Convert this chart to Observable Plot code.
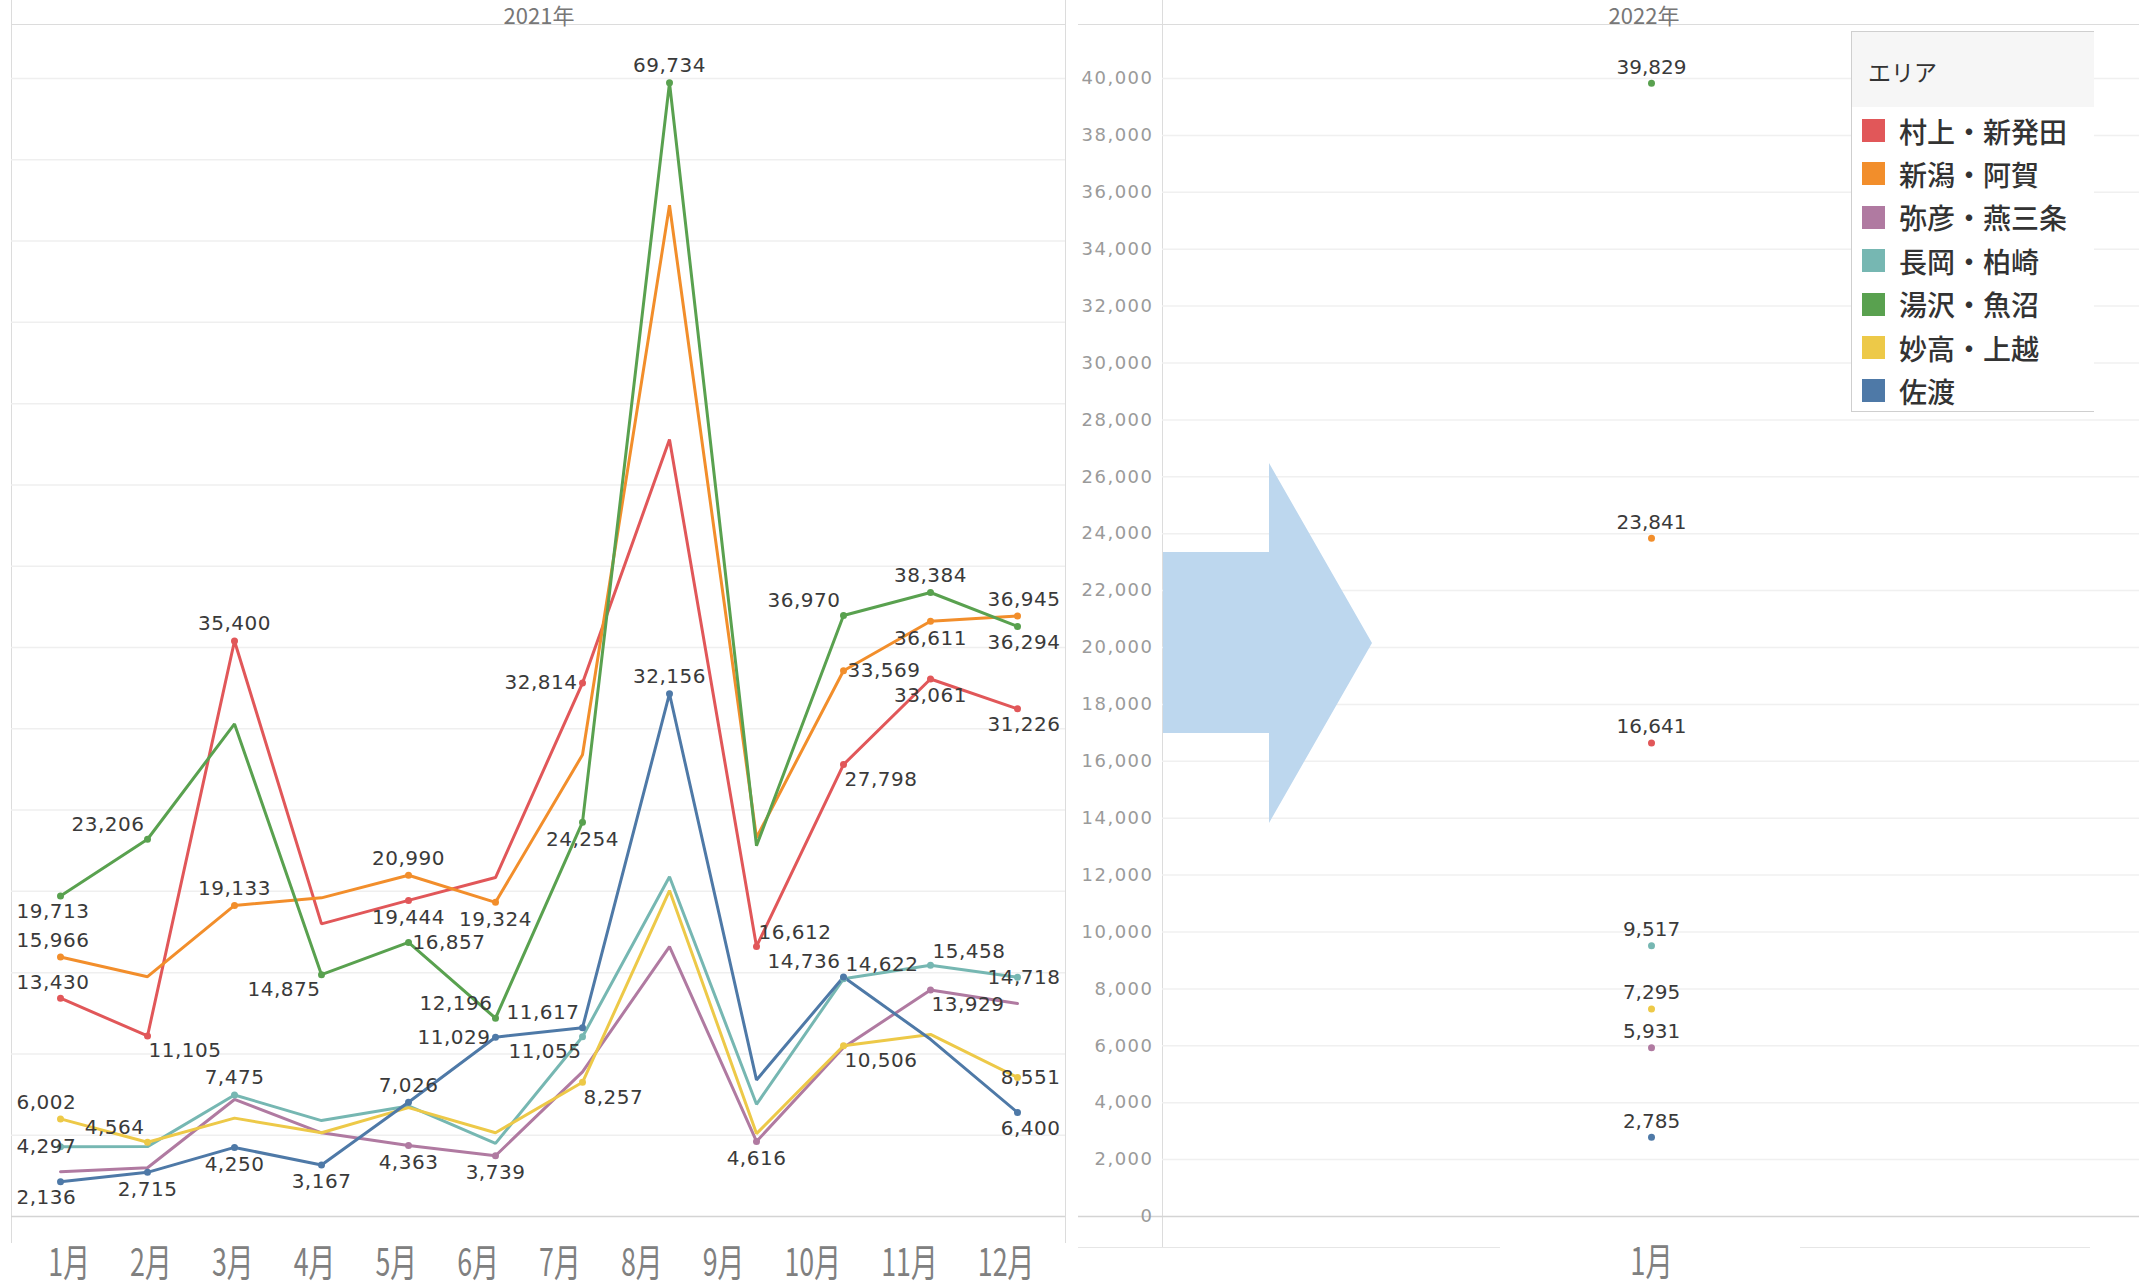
<!DOCTYPE html>
<html><head><meta charset="utf-8">
<script src="https://cdn.jsdelivr.net/npm/d3@7"></script>
<script src="https://cdn.jsdelivr.net/npm/@observablehq/plot@0.6"></script>
<style>
html,body{margin:0;padding:0;background:#fff;}
body{width:2139px;height:1284px;overflow:hidden;position:relative;font-family:"Noto Sans CJK JP","DejaVu Sans",sans-serif;}
.layer{position:absolute;top:0;}
.vline{position:absolute;width:1px;background:#dcdcdc;}
.hline{position:absolute;height:1px;background:#dcdcdc;}
.year{position:absolute;top:0px;font-size:22px;line-height:28px;color:#777;transform:translateX(-50%);white-space:nowrap;}
#arrow{position:absolute;left:1163px;top:463px;width:209px;height:360px;background:#bdd7ee;
 clip-path:polygon(0 89px,106px 89px,106px 0,209px 180px,106px 360px,106px 270px,0 270px);}
#legend{position:absolute;left:1851px;top:31px;width:243px;height:381px;border:1px solid #cfcfcf;border-right:none;background:#fff;box-sizing:border-box;}
#legend .title{height:75px;background:#f6f6f6;font-size:23px;color:#333;padding-left:16px;line-height:78px;}
#legend .item{position:absolute;left:10px;height:43px;display:flex;align-items:center;font-size:28px;color:#333;font-weight:500;white-space:nowrap;}
#legend .sw{width:23px;height:23px;margin-right:14px;flex:none;}
#leftx{transform:scaleX(0.705);transform-origin:0 0;}
</style></head><body>
<div class="vline" style="left:11px;top:0;height:1243px"></div>
<div class="vline" style="left:1065px;top:0;height:1243px"></div>
<div class="hline" style="left:11px;top:24px;width:1055px"></div>
<div class="hline" style="left:1078px;top:24px;width:1061px"></div>
<div class="vline" style="left:1162px;top:0;height:1247px"></div>
<div class="hline" style="left:1078px;top:1247px;width:422px;background:#e6e6e6"></div>
<div class="hline" style="left:1800px;top:1247px;width:290px;background:#e6e6e6"></div>
<div id="y2021" class="year" style="left:539px"></div>
<div id="y2022" class="year" style="left:1644px"></div>
<div id="left" class="layer" style="left:0"></div>
<div id="leftx" class="layer" style="left:0"></div>
<div id="right" class="layer" style="left:1080px"></div>
<div id="arrow"></div>
<div id="legend"></div>
<script>
// ---- data ----
const months = ["1月","2月","3月","4月","5月","6月","7月","8月","9月","10月","11月","12月"];
const areas = ["村上・新発田","新潟・阿賀","弥彦・燕三条","長岡・柏崎","湯沢・魚沼","妙高・上越","佐渡"];
const areaColors = ["#e15759","#f28e2b","#b07aa1","#76b7b2","#59a14f","#edc948","#4e79a7"];

const murakami2021 = [13430, 11105, 35400, 18000, 19444, 20850, 32814, 47800, 16612, 27798, 33061, 31226];
const niigata2021  = [15966, 14750, 19133, 19600, 20990, 19324, 28400, 62200, 23300, 33569, 36611, 36945];
const yahiko2021   = [2750, 3000, 7200, 5150, 4363, 3739, 8900, 16600, 4616, 10400, 13929, 13100];
const nagaoka2021  = [4297, 4300, 7475, 5900, 6800, 4500, 11055, 20900, 6900, 14622, 15458, 14718];
const yuzawa2021   = [19713, 23206, 30300, 14875, 16857, 12196, 24254, 69734, 22800, 36970, 38384, 36294];
const myoko2021    = [6002, 4564, 6050, 5150, 6700, 5150, 8257, 20050, 5100, 10506, 11200, 8551];
const sado2021     = [2136, 2715, 4250, 3167, 7026, 11029, 11617, 32156, 8400, 14736, 10900, 6400];

const month2022 = "1月";
const values2022 = [16641, 23841, 5931, 9517, 39829, 7295, 2785];

const yearLabels = ["2021年", "2022年"];
const legendTitle = "エリア";
const ticks2022 = d3.range(0, 40001, 2000);

// ---- label placement (which points are labelled, and where) ----
const place2021 = [
  ["Lt","br","t",null,"b",null,"l",null,"tr","br","b","Rb"],
  ["Lt",null,"t",null,"t","b",null,null,null,"r","b","Rt"],
  [null,null,null,null,"b","b",null,null,"b",null,"br",null],
  ["Lm",null,"t",null,null,null,"bl",null,null,"tr","tr","Rm"],
  ["Lb","tl",null,"bl","r","tl","b","t",null,"tl","t","Rb"],
  ["Lt","tl",null,null,null,null,"br",null,null,"br",null,"Rm"],
  ["Lb","b","b","b","t","l","tl","t",null,"tl",null,"Rb"]
];
const placements = {
  t:["middle",0,-17], b:["middle",0,17], l:["end",-5,0], r:["start",4,0],
  tl:["end",-3,-15], bl:["end",-1,15], tr:["start",2,-14], br:["start",1,15],
  Lt:["start",-44,-16], Lm:["start",-44,0], Lb:["start",-44,16],
  Rt:["end",43,-16], Rm:["end",43,0], Rb:["end",43,16]
};

const series2021 = [murakami2021, niigata2021, yahiko2021, nagaoka2021, yuzawa2021, myoko2021, sado2021];
const rows2021 = [];
series2021.forEach((vals, i) => vals.forEach((v, j) =>
  rows2021.push({area: areas[i], month: months[j], value: v, pos: place2021[i][j]})));
const rows2022 = areas.map((a, i) => ({area: a, month: month2022, value: values2022[i]}));

const fmt = d3.format(",");
const colorScale = {domain: areas, range: areaColors};
const labelFont = {fontFamily: "DejaVu Sans", fontSize: 20, fill: "#3a3a3a"};
const monthFont = {fontFamily: "Noto Sans CJK JP", fontSize: 38};

// ---- 2021 panel ----
const left = Plot.plot({
  width: 1080, height: 1284,
  marginLeft: 56, marginRight: 59, marginTop: 78, marginBottom: 68,
  style: {background: "transparent", letterSpacing: "0.5px", overflow: "visible"},
  x: {type: "point", domain: months, padding: 0, axis: null},
  y: {domain: [0, 70000], axis: null},
  color: colorScale,
  marks: [
    Plot.ruleY(d3.range(5000, 70001, 5000), {stroke: "#efefef", strokeWidth: 1.5, insetLeft: -45, insetRight: -44}),
    Plot.ruleY([0], {stroke: "#d4d4d4", strokeWidth: 1.5, insetLeft: -45, insetRight: -44}),
    Plot.line(rows2021, {x: "month", y: "value", z: "area", stroke: "area", strokeWidth: 3, strokeLinejoin: "miter"}),
    Plot.dot(rows2021.filter(d => d.pos), {x: "month", y: "value", fill: "area", r: 3.5}),
    ...Object.entries(placements).map(([k, [anchor, dx, dy]]) =>
      Plot.text(rows2021.filter(d => d.pos === k), {
        x: "month", y: "value", text: d => fmt(d.value),
        textAnchor: anchor, dx, dy, ...labelFont
      }))
  ]
});
document.getElementById("left").append(left);

// month labels of the 2021 panel: one line of text, condensed horizontally
const leftx = Plot.plot({
  width: 1530, height: 1284,
  marginLeft: 68, marginRight: 0, marginTop: 0, marginBottom: 21,
  style: {background: "transparent", overflow: "visible"},
  marks: [
    Plot.text([months.join("\u3000\u2002")], {
      frameAnchor: "bottom-left", textAnchor: "start", lineAnchor: "middle",
      fill: "#808080", ...monthFont
    })
  ]
});
document.getElementById("leftx").append(leftx);

// ---- 2022 panel ----
const right = Plot.plot({
  width: 1059, height: 1284,
  marginLeft: 82, marginRight: 0, marginTop: 78, marginBottom: 68,
  style: {background: "transparent", overflow: "visible"},
  x: {type: "point", domain: [month2022], padding: 0.5},
  y: {domain: [0, 40000], label: null},
  color: colorScale,
  marks: [
    Plot.ruleY(ticks2022.filter(v => v > 0), {stroke: "#f0f0f0", strokeWidth: 1.5}),
    Plot.ruleY([0], {stroke: "#d4d4d4", strokeWidth: 1.5, insetLeft: -84}),
    Plot.axisY({ticks: ticks2022, tickFormat: fmt, tickSize: 0, tickPadding: 9, fontSize: 18,
      fontFamily: "DejaVu Sans", color: "#9a9a9a", label: null}),
    Plot.axisX({tickSize: 0, tickPadding: 32, ...monthFont, color: "#808080", label: null}),
    Plot.dot(rows2022, {x: "month", y: "value", fill: "area", r: 3.5}),
    Plot.text(rows2022, {x: "month", y: "value", text: d => fmt(d.value), dy: -16, ...labelFont})
  ]
});
document.getElementById("right").append(right);

// condensed look of the month label and wide tick labels
d3.selectAll('#right g[aria-label="x-axis tick label"] text').each(function() {
  const t = this.getAttribute("transform") || "";
  this.setAttribute("transform", t + " scale(0.72,1)");
});
d3.selectAll('#right g[aria-label="y-axis tick label"] text').style("letter-spacing", "1.5px");

// ---- headers ----
document.getElementById("y2021").textContent = yearLabels[0];
document.getElementById("y2022").textContent = yearLabels[1];

// ---- legend ----
const legend = document.getElementById("legend");
const title = document.createElement("div");
title.className = "title";
title.textContent = legendTitle;
legend.append(title);
areas.forEach((a, i) => {
  const it = document.createElement("div");
  it.className = "item";
  it.style.top = (77 + i * 43.4) + "px";
  const sw = document.createElement("span");
  sw.className = "sw";
  sw.style.background = areaColors[i];
  const tx = document.createElement("span");
  tx.textContent = a;
  it.append(sw, tx);
  legend.append(it);
});
</script>
</body></html>
